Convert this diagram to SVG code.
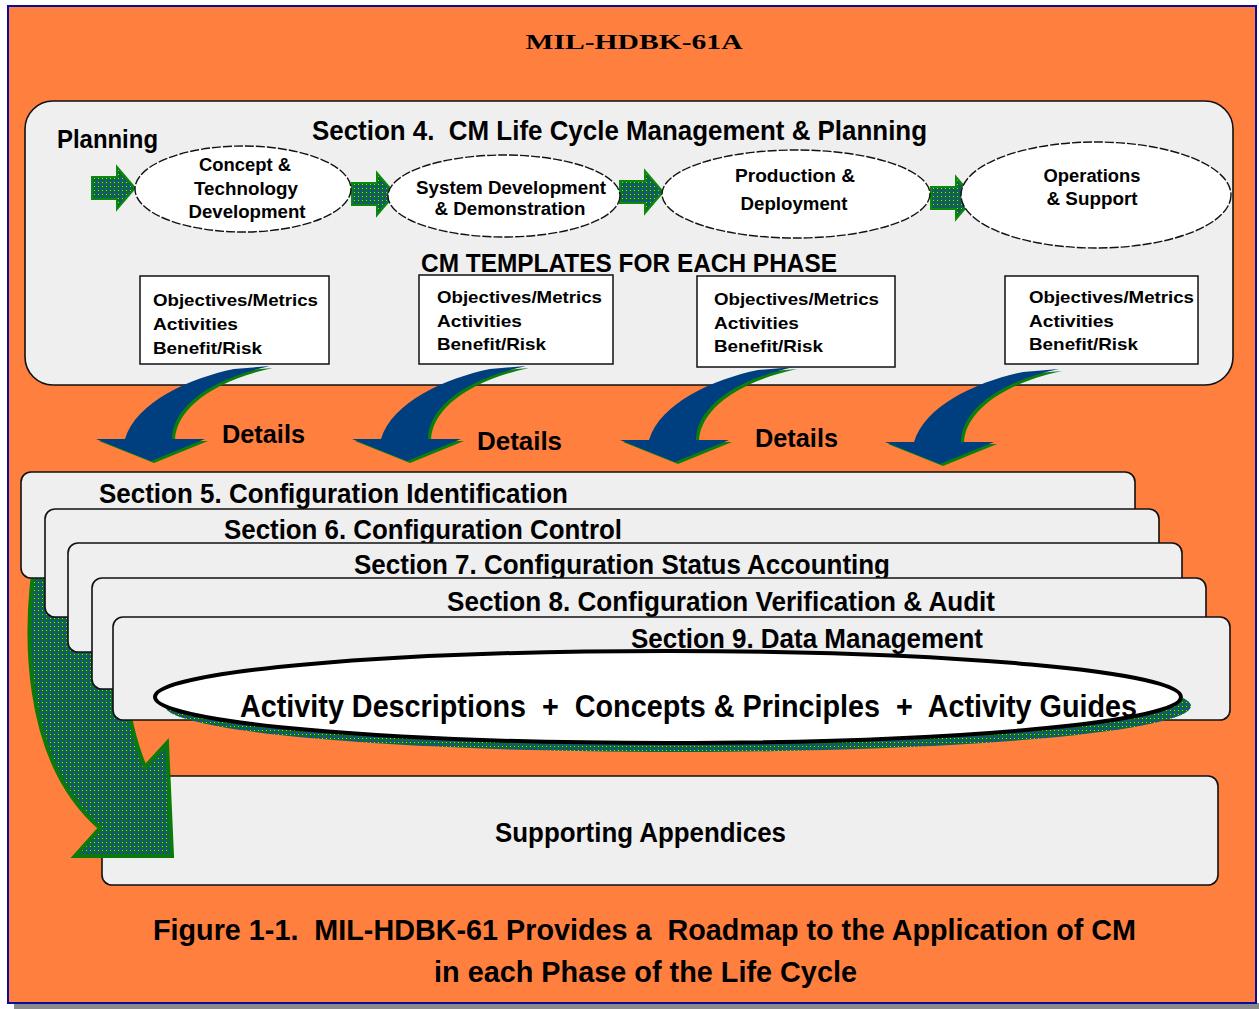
<svg xmlns="http://www.w3.org/2000/svg" xmlns:xlink="http://www.w3.org/1999/xlink" width="1259" height="1009" viewBox="0 0 1259 1009">
<style>
.t{font-family:"Liberation Sans",Arial,sans-serif;font-weight:bold;fill:#000}
.panel{fill:#efefef;stroke:#111;stroke-width:1.6}
.phase{fill:#fff;stroke:#111;stroke-width:1.4;stroke-dasharray:9 2}
.tbox{fill:#fff;stroke:#111;stroke-width:1.5}
.blk{fill:url(#dots);stroke:#0a8a0a;stroke-width:2}
</style>
<defs>
<pattern id="dots" width="4" height="4" patternUnits="userSpaceOnUse">
<rect width="4" height="4" fill="#0e6a2c"/>
<rect x="0" y="0" width="2" height="2" fill="#1d4f98"/>
<rect x="2" y="2" width="1" height="1" fill="#7fe07f"/>
</pattern>
<path id="blkarrow" d="M0,-11 H25 V-21 L43,0 L25,21 V11 H0 Z"/>
<path id="darr" d="M234,369 C190,378 136,402 125,439 L96,439 L151,461 L205,439 L172,439 C172,410 205,380 270,366 Z"/>
</defs>

<!-- frame -->
<rect x="14" y="1003" width="1245" height="6" fill="#8a8a8a"/>
<rect x="8" y="6" width="1248" height="997" fill="#ff7f3f" stroke="#0a0aa0" stroke-width="2"/>
<text class="t" x="634" y="49" text-anchor="middle" style="font-family:'Liberation Serif','Times New Roman',serif" font-size="22" textLength="217" lengthAdjust="spacingAndGlyphs">MIL-HDBK-61A</text>

<!-- Section 4 panel -->
<g id="section4">
<rect class="panel" x="25" y="101" width="1208" height="284" rx="28" fill="#f0f0f0"/>
<text class="t" x="57" y="148" font-size="25" textLength="101" lengthAdjust="spacingAndGlyphs">Planning</text>
<text class="t" x="312" y="140" font-size="28" xml:space="preserve" textLength="615" lengthAdjust="spacingAndGlyphs">Section 4.  CM Life Cycle Management &amp; Planning</text>
<text class="t" x="421" y="272" font-size="25" textLength="416" lengthAdjust="spacingAndGlyphs">CM TEMPLATES FOR EACH PHASE</text>
</g>

<!-- phase arrows -->
<g id="phase-arrows">
<use xlink:href="#blkarrow" class="blk" transform="translate(92,188)"/>
<use xlink:href="#blkarrow" class="blk" transform="translate(352,194)"/>
<use xlink:href="#blkarrow" class="blk" transform="translate(620,192)"/>
<use xlink:href="#blkarrow" class="blk" transform="translate(931,198)"/>
</g>

<g id="phase1">
<ellipse class="phase" cx="243" cy="189" rx="108" ry="43"/>
<text class="t" x="245" y="171" font-size="18" text-anchor="middle" textLength="92" lengthAdjust="spacingAndGlyphs">Concept &amp;</text>
<text class="t" x="246" y="195" font-size="18" text-anchor="middle" textLength="104" lengthAdjust="spacingAndGlyphs">Technology</text>
<text class="t" x="247" y="218" font-size="18" text-anchor="middle" textLength="117" lengthAdjust="spacingAndGlyphs">Development</text>
</g>
<g id="phase2">
<ellipse class="phase" cx="504" cy="196" rx="116" ry="41"/>
<text class="t" x="511" y="194" font-size="18" text-anchor="middle" textLength="190" lengthAdjust="spacingAndGlyphs">System Development</text>
<text class="t" x="510" y="215" font-size="18" text-anchor="middle" textLength="151" lengthAdjust="spacingAndGlyphs">&amp; Demonstration</text>
</g>
<g id="phase3">
<ellipse class="phase" cx="796" cy="194" rx="134" ry="44"/>
<text class="t" x="795" y="182" font-size="18" text-anchor="middle" textLength="120" lengthAdjust="spacingAndGlyphs">Production &amp;</text>
<text class="t" x="794" y="210" font-size="18" text-anchor="middle" textLength="107" lengthAdjust="spacingAndGlyphs">Deployment</text>
</g>
<g id="phase4">
<ellipse class="phase" cx="1096" cy="195" rx="135" ry="53"/>
<text class="t" x="1092" y="182" font-size="18" text-anchor="middle" textLength="97" lengthAdjust="spacingAndGlyphs">Operations</text>
<text class="t" x="1092" y="205" font-size="18" text-anchor="middle" textLength="91" lengthAdjust="spacingAndGlyphs">&amp; Support</text>
</g>

<!-- templates -->
<g id="template1">
<rect class="tbox" x="140" y="276" width="189" height="88"/>
<text class="t" font-size="17"><tspan x="153" y="306" textLength="165" lengthAdjust="spacingAndGlyphs">Objectives/Metrics</tspan><tspan x="153" y="330" textLength="85" lengthAdjust="spacingAndGlyphs">Activities</tspan><tspan x="153" y="354" textLength="109" lengthAdjust="spacingAndGlyphs">Benefit/Risk</tspan></text>
</g>
<g id="template2">
<rect class="tbox" x="419" y="275" width="194" height="89"/>
<text class="t" font-size="17"><tspan x="437" y="303" textLength="165" lengthAdjust="spacingAndGlyphs">Objectives/Metrics</tspan><tspan x="437" y="327" textLength="85" lengthAdjust="spacingAndGlyphs">Activities</tspan><tspan x="437" y="350" textLength="109" lengthAdjust="spacingAndGlyphs">Benefit/Risk</tspan></text>
</g>
<g id="template3">
<rect class="tbox" x="697" y="276" width="198" height="91"/>
<text class="t" font-size="17"><tspan x="714" y="305" textLength="165" lengthAdjust="spacingAndGlyphs">Objectives/Metrics</tspan><tspan x="714" y="329" textLength="85" lengthAdjust="spacingAndGlyphs">Activities</tspan><tspan x="714" y="352" textLength="109" lengthAdjust="spacingAndGlyphs">Benefit/Risk</tspan></text>
</g>
<g id="template4">
<rect class="tbox" x="1005" y="276" width="193" height="88"/>
<text class="t" font-size="17"><tspan x="1029" y="303" textLength="165" lengthAdjust="spacingAndGlyphs">Objectives/Metrics</tspan><tspan x="1029" y="327" textLength="85" lengthAdjust="spacingAndGlyphs">Activities</tspan><tspan x="1029" y="350" textLength="109" lengthAdjust="spacingAndGlyphs">Benefit/Risk</tspan></text>
</g>

<!-- details arrows -->
<g id="connectors">
<g>
<use xlink:href="#darr" fill="#0a800a" transform="translate(3,2)"/>
<use xlink:href="#darr" fill="#003f7f"/>
</g>
<g transform="translate(256,0)">
<use xlink:href="#darr" fill="#0a800a" transform="translate(3,2)"/>
<use xlink:href="#darr" fill="#003f7f"/>
</g>
<g transform="translate(524,1)">
<use xlink:href="#darr" fill="#0a800a" transform="translate(3,2)"/>
<use xlink:href="#darr" fill="#003f7f"/>
</g>
<g transform="translate(789,3)">
<use xlink:href="#darr" fill="#0a800a" transform="translate(3,2)"/>
<use xlink:href="#darr" fill="#003f7f"/>
</g>
</g>
<g id="details-labels">
<text class="t" x="222" y="443" font-size="25" textLength="83" lengthAdjust="spacingAndGlyphs">Details</text>
<text class="t" x="477" y="450" font-size="25" textLength="85" lengthAdjust="spacingAndGlyphs">Details</text>
<text class="t" x="755" y="447" font-size="25" textLength="83" lengthAdjust="spacingAndGlyphs">Details</text>
</g>

<!-- appendices -->
<g id="appendices">
<rect class="panel" x="102" y="776" width="1116" height="109" rx="10"/>
<text class="t" x="495" y="842" font-size="27" textLength="291" lengthAdjust="spacingAndGlyphs">Supporting Appendices</text>
</g>

<!-- big green arrow -->
<g id="big-arrow">
<path d="M38,540 C22,630 22,760 100,828 L75,856 L172,856 L167,743 L145,767 C125,720 115,640 118,540 Z" fill="url(#dots)" stroke="#0a7a0a" stroke-width="4" stroke-linejoin="miter"/>
</g>

<!-- sections -->
<g id="section5">
<rect class="panel" x="21" y="472" width="1114" height="106" rx="10"/>
<text class="t" x="99" y="503" font-size="27" textLength="469" lengthAdjust="spacingAndGlyphs">Section 5. Configuration Identification</text>
</g>
<g id="section6">
<rect class="panel" x="45" y="509" width="1114" height="108" rx="10"/>
<text class="t" x="224" y="539" font-size="27" textLength="398" lengthAdjust="spacingAndGlyphs">Section 6. Configuration Control</text>
</g>
<g id="section7">
<rect class="panel" x="68" y="543" width="1114" height="109" rx="10"/>
<text class="t" x="354" y="574" font-size="27" textLength="536" lengthAdjust="spacingAndGlyphs">Section 7. Configuration Status Accounting</text>
</g>
<g id="section8">
<rect class="panel" x="92" y="578" width="1114" height="111" rx="10"/>
<text class="t" x="447" y="611" font-size="27" textLength="548" lengthAdjust="spacingAndGlyphs">Section 8. Configuration Verification &amp; Audit</text>
</g>
<g id="section9">
<rect class="panel" x="113" y="617" width="1117" height="103" rx="10"/>
<text class="t" x="631" y="648" font-size="27" textLength="352" lengthAdjust="spacingAndGlyphs">Section 9. Data Management</text>
</g>

<!-- activity ellipse -->
<g id="activities">
<ellipse cx="678" cy="706" rx="513" ry="46" fill="url(#dots)"/>
<ellipse cx="668" cy="697" rx="513" ry="46" fill="#fff" stroke="#000" stroke-width="4"/>
<text class="t" x="240" y="717" font-size="31" xml:space="preserve" textLength="897" lengthAdjust="spacingAndGlyphs">Activity Descriptions  +  Concepts &amp; Principles  +  Activity Guides</text>
</g>

<!-- caption -->
<g id="caption">
<text class="t" x="153" y="940" font-size="30" xml:space="preserve" textLength="983" lengthAdjust="spacingAndGlyphs">Figure 1-1.  MIL-HDBK-61 Provides a  Roadmap to the Application of CM</text>
<text class="t" x="434" y="982" font-size="30" textLength="423" lengthAdjust="spacingAndGlyphs">in each Phase of the Life Cycle</text>
</g>
</svg>
